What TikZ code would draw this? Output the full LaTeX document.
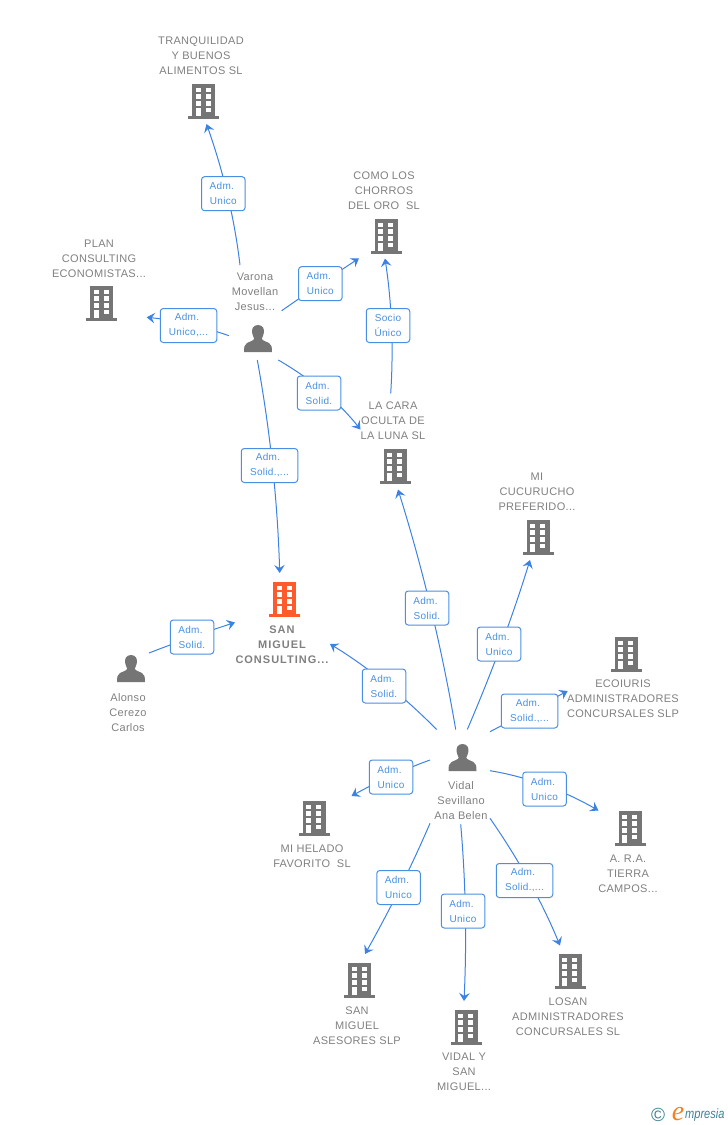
\documentclass[tikz,border=0pt]{standalone}
\usepackage{fontspec}
\setmainfont{Liberation Sans}
\newfontfamily\spacedfont[LetterSpace=3]{Liberation Sans}
\newfontfamily\widefont[LetterSpace=9]{Liberation Sans}
\newfontfamily\logofont{Liberation Serif}
\usetikzlibrary{arrows.meta,calc}
\definecolor{linkblue}{HTML}{3C82E3}
\definecolor{boxblue}{HTML}{4A90E2}
\definecolor{txtgrey}{HTML}{808080}
\definecolor{icongrey}{HTML}{757575}
\definecolor{hot}{HTML}{FF5A2C}
\definecolor{logoteal}{HTML}{3F7F95}
\definecolor{logoorange}{HTML}{F58220}
\tikzset{
  x=1pt,y=-1pt,
  link/.style={draw=linkblue,line width=1pt,-{Stealth[length=8pt,width=10.5pt,inset=3pt]}},
  tag/.style={draw=boxblue,line width=1pt,fill=white,rounded corners=3pt,text=boxblue,
    minimum height=34pt,inner sep=0pt,align=center,font=\spacedfont\fontsize{10}{15}\selectfont},
  tagA/.style={tag,minimum width=43.5pt},
  tagB/.style={tag,minimum width=56.5pt},
  entity/.style={text=txtgrey,align=center,inner sep=0pt,font=\spacedfont\fontsize{11}{15}\selectfont},
  pics/tower/.style={code={
    \fill[#1] (-11.5,-17) rectangle (11.5,16);
    \foreach \wx in {-7.7,2.3}\foreach \wy in {-13.3,-6.7,0}
      \fill[white] (\wx,\wy) rectangle +(5,4.7);
    \fill[white] (-7.7,6.7) rectangle (-2.7,15.5);
    \fill[white] (2.3,6.7) rectangle (7.3,11.4);
    \fill[#1] (-15.5,15) rectangle (15.5,17.7);
  }},
  pics/person/.style={code={
    \fill[icongrey] (0,-14) .. controls (-5,-14) and (-6.5,-10) .. (-5.8,-6)
      .. controls (-5.4,-3.5) and (-4.5,-2) .. (-3.8,-0.5)
      .. controls (-4,1.5) and (-8,2.5) .. (-11,4)
      .. controls (-13.5,5.2) and (-14,8) .. (-14,13)
      -- (14,13) .. controls (14,8) and (13.5,5.2) .. (11,4)
      .. controls (8,2.5) and (4,1.5) .. (3.8,-0.5)
      .. controls (4.5,-2) and (5.4,-3.5) .. (5.8,-6)
      .. controls (6.5,-10) and (5,-14) .. (0,-14) -- cycle;
  }}
}
\newcommand{\conn}[3]{\draw[link] (#1) .. controls ($(#2)!-1/3!(#3)$) and ($(#2)!-1/3!(#1)$) .. (#3);}
\newcommand{\adm}{Adm.\kern3pt}
\begin{document}
\begin{tikzpicture}
\useasboundingbox (0,0) rectangle (728,1125);
% icons
\pic at (203.5,101) {tower=icongrey};
\pic at (386,236) {tower=icongrey};
\pic at (101.5,303) {tower=icongrey};
\pic at (395,466) {tower=icongrey};
\pic at (538,537) {tower=icongrey};
\pic at (284.5,599) {tower=hot};
\pic at (626,654) {tower=icongrey};
\pic at (314,818) {tower=icongrey};
\pic at (630,828) {tower=icongrey};
\pic at (570,971) {tower=icongrey};
\pic at (359.5,980) {tower=icongrey};
\pic at (466,1027) {tower=icongrey};
\pic at (258,339) {person};
\pic at (131,669) {person};
\pic at (462.5,758) {person};
% names
\node[entity] (tranq) at (201,55.5) {TRANQUILIDAD\\Y BUENOS\\ALIMENTOS SL};
\node[entity] (como) at (384,190.5) {COMO LOS\\CHORROS\\DEL ORO\ \ SL};
\node[entity] (plan) at (99,258.5) {PLAN\\CONSULTING\\ECONOMISTAS...};
\node[entity] (varona) at (255,291.5) {Varona\\Movellan\\Jesus...};
\node[entity] (cara) at (393,420.5) {LA CARA\\OCULTA DE\\LA LUNA SL};
\node[entity] (cucu) at (537,491.5) {MI\\CUCURUCHO\\PREFERIDO...};
\node[entity,font=\widefont\bfseries\fontsize{11}{15}\selectfont] (smc) at (282,644.5) {SAN\\MIGUEL\\CONSULTING...};
\node[entity] (eco) at (623,698.5) {ECOIURIS\\ADMINISTRADORES\\CONCURSALES SLP};
\node[entity] (alonso) at (128,712.5) {Alonso\\Cerezo\\Carlos};
\node[entity] (vidal) at (461,800.5) {Vidal\\Sevillano\\Ana Belen};
\node[entity] (helado) at (312,856) {MI HELADO\\FAVORITO\ \ SL};
\node[entity] (ara) at (628,873.5) {A. R.A.\\TIERRA\\CAMPOS...};
\node[entity] (losan) at (568,1016.5) {LOSAN\\ADMINISTRADORES\\CONCURSALES SL};
\node[entity] (ases) at (357,1025.5) {SAN\\MIGUEL\\ASESORES SLP};
\node[entity] (vsm) at (464,1071.5) {VIDAL Y\\SAN\\MIGUEL...};
% connector ends
\coordinate (s1) at (240,265);   \coordinate (e1) at (206.5,124);
\coordinate (s2) at (281.7,310.7); \coordinate (e2) at (359,258.3);
\coordinate (s3) at (229,335.7); \coordinate (e3) at (146.7,317.3);
\coordinate (s4) at (278.3,360); \coordinate (e4) at (360.5,429.5);
\coordinate (s5) at (257.3,360); \coordinate (e5) at (279.7,573);
\coordinate (s6) at (390.7,393.3); \coordinate (e6) at (385,258.5);
\coordinate (s7) at (149,653);   \coordinate (e7) at (235,622.5);
\coordinate (s8) at (455.7,729.5); \coordinate (e8) at (398,489.5);
\coordinate (s9) at (467.3,729.5); \coordinate (e9) at (530,560);
\coordinate (s10) at (490,731.7); \coordinate (e10) at (567.7,691);
\coordinate (s11) at (436.7,729.5); \coordinate (e11) at (330,644);
\coordinate (s12) at (430,760);  \coordinate (e12) at (351.5,796);
\coordinate (s13) at (490,770.7); \coordinate (e13) at (598.5,810.5);
\coordinate (s14) at (490,818.3); \coordinate (e14) at (560,945.5);
\coordinate (s15) at (460.7,824.3); \coordinate (e15) at (464,1001);
\coordinate (s16) at (430,823.3); \coordinate (e16) at (365,954);
% points the curves pass through
\coordinate (c1) at (227.5,195);  \coordinate (c2) at (320.5,284);
\coordinate (c3) at (188,324);    \coordinate (c4) at (324,392);
\coordinate (c5) at (272.5,466);  \coordinate (c6) at (391.5,326);
\coordinate (c7) at (192,637);    \coordinate (c8) at (431,609);
\coordinate (c9) at (501.5,644);  \coordinate (c10) at (529.5,711);
\coordinate (c11) at (384,682);   \coordinate (c12) at (391,776);
\coordinate (c13) at (544,785);   \coordinate (c14) at (529,881);
\coordinate (c15) at (465.3,912); \coordinate (c16) at (400,888);
% connectors
\foreach \i in {1,...,16}{\conn{s\i}{c\i}{e\i}}
% labels
\node[tagA] (l1) at (223.3,193.7) {\adm\\Unico};
\node[tagA] (l2) at (320.3,283.7) {\adm\\Unico};
\node[tagB] (l3) at (188.5,325.5) {\adm\\Unico,...};
\node[tagA] (l4) at (319,393) {\adm\\Solid.};
\node[tagB] (l5) at (269.5,465.5) {\adm\\Solid.,...};
\node[tagA] (l6) at (388,325.5) {Socio\\Único};
\node[tagA] (l7) at (192,637) {\adm\\Solid.};
\node[tagA] (l8) at (427,608) {\adm\\Solid.};
\node[tagA] (l9) at (499,644) {\adm\\Unico};
\node[tagB] (l10) at (529.5,711) {\adm\\Solid.,...};
\node[tagA] (l11) at (384,686) {\adm\\Solid.};
\node[tagA] (l12) at (391,777) {\adm\\Unico};
\node[tagA] (l13) at (544.5,789) {\adm\\Unico};
\node[tagB] (l14) at (524.5,880.5) {\adm\\Solid.,...};
\node[tagA] (l15) at (463,911) {\adm\\Unico};
\node[tagA] (l16) at (398.5,887.5) {\adm\\Unico};
% logo
\node[inner sep=0pt,text=logoteal,font=\fontsize{19}{19}\selectfont] (copy) at (658,1114.5) {©};
\node[inner sep=0pt,text=logoorange,anchor=base,font=\logofont\itshape\fontsize{28}{28}\selectfont] (loge) at (678,1120) {e};
\node[inner sep=0pt,text=logoteal,anchor=base west,xscale=.82,transform shape,font=\itshape\fontsize{13.5}{14}\selectfont] (logt) at (685,1118) {mpresia};
\end{tikzpicture}
\end{document}
